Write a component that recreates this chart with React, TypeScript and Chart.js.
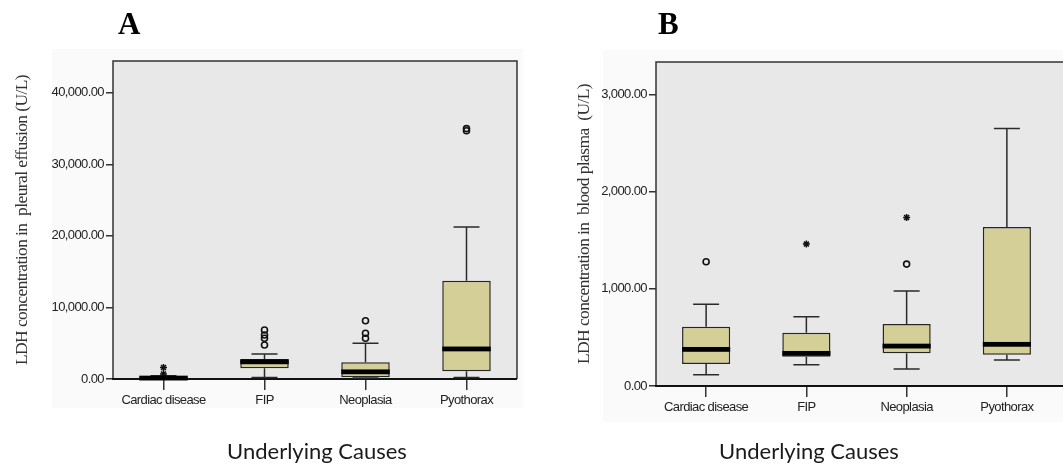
import React, { useEffect, useRef } from "react";
import { Chart, registerables } from "chart.js";

Chart.register(...registerables);

// ---------- data ----------
const categories = ["Cardiac disease", "FIP", "Neoplasia", "Pyothorax"];

// Panel A: LDH in pleural effusion (U/L)
const pleuralMin = [0, 200, 150, 200];
const pleuralQ1 = [40, 1500, 230, 1070];
const pleuralMedian = [130, 2400, 1000, 4200];
const pleuralQ3 = [300, 2800, 2330, 13750];
const pleuralMax = [450, 3500, 4990, 21260];
const pleuralOutliers = [[], [4750, 5700, 6150, 6850], [5700, 6400, 8150], [34700, 35000]];
const pleuralExtremes = [[700, 1600], [], [], []];
const pleuralTicks = [0, 10000, 20000, 30000, 40000];
const pleuralAxisMax = 44450;

// Panel B: LDH in blood plasma (U/L)
const plasmaMin = [116, 219, 175, 267];
const plasmaQ1 = [226, 302, 336, 322];
const plasmaMedian = [377, 336, 411, 429];
const plasmaQ3 = [610, 548, 638, 1636];
const plasmaMax = [843, 713, 977, 2651];
const plasmaOutliers = [[1279], [], [1255], []];
const plasmaExtremes = [[], [1461], [1735], []];
const plasmaTicks = [0, 1000, 2000, 3000];
const plasmaAxisMax = 3336;

// ---------- styles ----------
const BOX_FILL = "#d4ce97";
const INK = "#262626";
const PLOT_BG = "#e8e8e8";
const NARROW = "'Liberation Sans', Arial, sans-serif";
const SERIF = "'Liberation Serif', 'Times New Roman', serif";

const fmt = (v: number) =>
  Number(v).toLocaleString("en-US", { minimumFractionDigits: 2, maximumFractionDigits: 2 });

const toPoints = (groups: number[][]) =>
  groups.flatMap((vals, i) => vals.map((y) => ({ x: categories[i], y })));

const boxPlugin = {
  id: "boxExtras",
  beforeDraw(chart: any, _a: any, o: any) {
    const { ctx, chartArea } = chart;
    ctx.save();
    if (o.panel) {
      ctx.fillStyle = "#fafafa";
      ctx.fillRect(o.panel[0], o.panel[1], o.panel[2], o.panel[3]);
    }
    const right = o.openRight ? chart.width + 5 : chartArea.right;
    ctx.fillStyle = PLOT_BG;
    ctx.fillRect(chartArea.left, chartArea.top, right - chartArea.left, chartArea.bottom - chartArea.top);
    ctx.restore();
    (ctx as any).letterSpacing = "-0.6px";
  },
  beforeDatasetsDraw(chart: any, _a: any, o: any) {
    const { ctx, chartArea, scales } = chart;
    const x = scales.x;
    const y = scales.y;
    ctx.save();
    const right = o.openRight ? chart.width + 5 : chartArea.right;
    ctx.strokeStyle = "#333";
    ctx.lineWidth = 1.5;
    ctx.beginPath();
    ctx.moveTo(chartArea.left, chartArea.bottom);
    ctx.lineTo(chartArea.left, chartArea.top);
    ctx.lineTo(right, chartArea.top);
    if (!o.openRight) ctx.lineTo(right, chartArea.bottom);
    ctx.stroke();
    ctx.strokeStyle = "#111";
    ctx.lineWidth = 2;
    ctx.beginPath();
    ctx.moveTo(chartArea.left - 1, chartArea.bottom);
    ctx.lineTo(right, chartArea.bottom);
    ctx.stroke();
    ctx.strokeStyle = "#2a2a2a";
    ctx.lineWidth = 1.5;
    const cap = 26;
    o.min.forEach((mn: number, i: number) => {
      const px = x.getPixelForValue(i);
      const yMin = y.getPixelForValue(mn);
      const yMax = y.getPixelForValue(o.max[i]);
      const yQ1 = y.getPixelForValue(o.q1[i]);
      const yQ3 = y.getPixelForValue(o.q3[i]);
      ctx.beginPath();
      ctx.moveTo(px, yMax);
      ctx.lineTo(px, yQ3);
      ctx.moveTo(px, yQ1);
      ctx.lineTo(px, yMin);
      ctx.moveTo(px - cap / 2, yMax);
      ctx.lineTo(px + cap / 2, yMax);
      ctx.moveTo(px - cap / 2, yMin);
      ctx.lineTo(px + cap / 2, yMin);
      ctx.stroke();
    });
    ctx.restore();
  },
  afterDatasetsDraw(chart: any, _a: any, o: any) {
    const { ctx, scales } = chart;
    const meta = chart.getDatasetMeta(0);
    ctx.save();
    ctx.fillStyle = "#000";
    o.median.forEach((m: number, i: number) => {
      const bar = meta.data[i];
      const w = bar.width;
      const px = scales.x.getPixelForValue(i);
      const py = scales.y.getPixelForValue(m);
      ctx.fillRect(px - w / 2, py - 2.4, w, 4.8);
    });
    ctx.restore();
  },
  afterDraw(chart: any, _a: any, o: any) {
    const { ctx } = chart;
    (ctx as any).letterSpacing = "0px";
    ctx.save();
    ctx.fillStyle = "#000";
    ctx.font = `bold 31px ${SERIF}`;
    ctx.textBaseline = "alphabetic";
    ctx.textAlign = "left";
    ctx.fillText(o.letter, o.letterX, 34);
    ctx.fillStyle = "#1a1a1a";
    ctx.font = "22px Lato, 'Open Sans', sans-serif";
    ctx.textAlign = "center";
    ctx.textBaseline = "middle";
    ctx.fillText("Underlying Causes", o.xTitleX, 452);
    ctx.restore();
  },
};

function makeConfig(p: any) {
  return {
    type: "bar",
    data: {
      labels: categories,
      datasets: [
        {
          data: p.q1.map((q: number, i: number) => [q, p.q3[i]]),
          backgroundColor: BOX_FILL,
          borderColor: INK,
          borderWidth: 1.5,
          borderSkipped: false,
          barPercentage: 0.48,
          categoryPercentage: 1,
          order: 2,
        },
        {
          type: "scatter",
          data: toPoints(p.outliers),
          pointStyle: "circle",
          radius: 3,
          borderColor: "#111",
          borderWidth: 1.6,
          backgroundColor: "rgba(0,0,0,0)",
          order: 1,
        },
        {
          type: "scatter",
          data: toPoints(p.extremes),
          pointStyle: "star",
          radius: 3.5,
          borderColor: "#111",
          borderWidth: 1.5,
          backgroundColor: "#111",
          order: 1,
        },
      ],
    },
    options: {
      animation: false,
      responsive: false,
      events: [],
      layout: { padding: p.padding },
      plugins: {
        legend: { display: false },
        tooltip: { enabled: false },
        title: { display: false },
        boxExtras: {
          min: p.min,
          q1: p.q1,
          median: p.median,
          q3: p.q3,
          max: p.max,
          letter: p.letter,
          letterX: p.letterX,
          xTitleX: p.xTitleX,
          openRight: p.openRight,
          panel: p.panel,
        },
      },
      scales: {
        x: {
          type: "category",
          offset: true,
          grid: {
            offset: false,
            drawOnChartArea: false,
            tickLength: 11,
            color: "#333",
            lineWidth: 1.5,
          },
          border: { display: false },
          ticks: {
            color: "#222",
            padding: 3,
            maxRotation: 0,
            font: { family: NARROW, size: 13 },
          },
          afterFit: (s: any) => {
            s.height = p.xHeight;
          },
        },
        y: {
          type: "linear",
          min: 0,
          max: p.axisMax,
          grid: {
            drawOnChartArea: false,
            tickLength: 7,
            color: "#333",
            lineWidth: 1.5,
          },
          border: { display: false },
          afterBuildTicks: (s: any) => {
            s.ticks = p.ticks.map((v: number) => ({ value: v }));
          },
          ticks: {
            color: "#222",
            padding: 2,
            font: { family: NARROW, size: 13 },
            callback: (v: any) => fmt(v),
          },
          title: {
            display: true,
            text: p.yTitle,
            color: "#333",
            font: { family: SERIF, size: 17.5 },
            padding: { top: p.yTitlePad, bottom: 0 },
          },
          afterFit: (s: any) => {
            s.width = p.yWidth;
          },
        },
      },
    },
    plugins: [boxPlugin],
  };
}

function BoxChart({ p, width, left }: { p: any; width: number; left: number }) {
  const ref = useRef<HTMLCanvasElement | null>(null);
  useEffect(() => {
    if (!ref.current) return;
    const chart = new Chart(ref.current, makeConfig(p) as any);
    return () => chart.destroy();
  }, []);
  return (
    <canvas
      ref={ref}
      width={width}
      height={466}
      style={{ position: "absolute", left, top: 0, width, height: 466, display: "block" }}
    />
  );
}

const panelA = {
  min: pleuralMin,
  q1: pleuralQ1,
  median: pleuralMedian,
  q3: pleuralQ3,
  max: pleuralMax,
  outliers: pleuralOutliers,
  extremes: pleuralExtremes,
  ticks: pleuralTicks,
  axisMax: pleuralAxisMax,
  yTitle: "LDH concentration in  pleural effusion (U/L)",
  letter: "A",
  letterX: 118,
  xTitleX: 317,
  padding: { left: 0, top: 61, right: 13, bottom: 0 },
  xHeight: 87,
  yWidth: 113,
  yTitlePad: 12,
  openRight: false,
  panel: [52, 49, 471, 359],
};

const panelB = {
  min: plasmaMin,
  q1: plasmaQ1,
  median: plasmaMedian,
  q3: plasmaQ3,
  max: plasmaMax,
  outliers: plasmaOutliers,
  extremes: plasmaExtremes,
  ticks: plasmaTicks,
  axisMax: plasmaAxisMax,
  yTitle: "LDH concentration in  blood plasma  (U/L)",
  letter: "B",
  letterX: 128,
  xTitleX: 279,
  padding: { left: 0, top: 62, right: 6, bottom: 0 },
  xHeight: 80,
  yWidth: 126,
  yTitlePad: 44,
  openRight: true,
  panel: [73, 50, 470, 372],
};

export default function App() {
  return (
    <div
      style={{
        position: "fixed",
        left: 0,
        top: 0,
        width: 1063,
        height: 466,
        overflow: "hidden",
        background: "#fff",
      }}
    >
      <BoxChart p={panelA} width={530} left={0} />
      <BoxChart p={panelB} width={533} left={530} />
    </div>
  );
}
